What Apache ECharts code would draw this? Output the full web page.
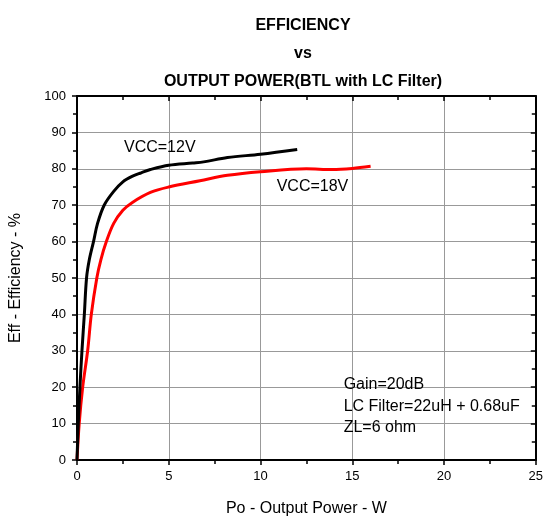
<!DOCTYPE html>
<html>
<head>
<meta charset="utf-8">
<script src="https://cdn.jsdelivr.net/npm/echarts@6/dist/echarts.min.js"></script>
<style>
  html, body { margin: 0; padding: 0; background: #fff; }
  #chart { width: 546px; height: 522px; }
</style>
</head>
<body>
<div id="chart"></div>
<script>
// VCC = 12V curve: output power (W) / efficiency (%)
const vcc12Power = [0, 0.07, 0.16, 0.27, 0.4, 0.52, 0.67, 0.9, 1.12, 1.48, 2.0, 2.5, 3.0, 3.5, 4.0, 5.0, 6.3, 6.9, 8.2, 10, 12];
const vcc12Eff   = [0, 10, 20, 30, 40, 50, 55, 60, 65, 70, 73.8, 76.4, 77.9, 78.9, 79.8, 81, 81.6, 81.9, 83.1, 84, 85.3];

// VCC = 18V curve
const vcc18Power = [0, 0.12, 0.31, 0.58, 0.78, 1.08, 1.3, 1.6, 2.0, 2.5, 3.0, 4.0, 5.0, 6.7, 8.2, 10, 12.5, 13.9, 15, 16];
const vcc18Eff   = [0, 10, 20, 30, 40, 50, 55, 60, 65, 68.6, 70.7, 73.5, 75, 76.7, 78.2, 79.2, 80, 79.8, 80.1, 80.7];

// text labels placed in data space
const label12 = { text: 'VCC=12V', at: [2.56, 85.8] };
const label18 = { text: 'VCC=18V', at: [10.88, 75.1] };
const noteLines = ['Gain=20dB', 'LC Filter=22uH + 0.68uF', 'ZL=6 ohm'];
const noteAt = [14.53, 14.7];

const FONT = 'Liberation Sans, Arial, sans-serif';

function pairs(xs, ys) {
  return xs.map((x, i) => [x, ys[i]]);
}

function textMark(text, coord, lineHeight) {
  return {
    coord: coord,
    symbol: 'circle',
    symbolSize: 0,
    label: {
      show: true,
      position: 'inside',
      formatter: text,
      align: 'left',
      verticalAlign: 'middle',
      color: '#000',
      fontFamily: FONT,
      fontSize: 16,
      lineHeight: lineHeight || 20
    }
  };
}

const chart = echarts.init(document.getElementById('chart'));

// shared bits for the frame axes
const blackLine = { show: true, onZero: false, lineStyle: { color: '#000', width: 2 } };

chart.setOption({
  animation: false,
  title: {
    text: 'EFFICIENCY\nvs\nOUTPUT POWER(BTL with LC Filter)',
    left: 298,
    top: 7,
    textAlign: 'center',
    textStyle: {
      fontFamily: FONT,
      fontWeight: 'bold',
      fontSize: 16,
      lineHeight: 28,
      color: '#000'
    }
  },
  grid: { left: 76, right: 9, top: 96, bottom: 51 },
  xAxis: [
    {
      type: 'value',
      min: 0, max: 25, interval: 5,
      position: 'bottom',
      name: 'Po - Output Power - W',
      nameLocation: 'middle',
      nameGap: 41,
      nameTextStyle: { fontFamily: FONT, fontSize: 16, color: '#000' },
      axisLine: blackLine,
      axisTick: { show: true, inside: false, length: 5, lineStyle: { color: '#000', width: 1.5 } },
      minorTick: { show: true, splitNumber: 2, length: 4, lineStyle: { color: '#000', width: 1.5 } },
      axisLabel: { margin: 10, fontFamily: FONT, fontSize: 13, color: '#000' },
      splitLine: { show: true, lineStyle: { color: '#999', width: 1 } }
    },
    {
      type: 'value',
      min: 0, max: 25, interval: 5,
      position: 'top',
      axisLine: blackLine,
      axisTick: { show: true, inside: true, length: 5, lineStyle: { color: '#000', width: 1.5 } },
      minorTick: { show: true, splitNumber: 2, length: 4, lineStyle: { color: '#000', width: 1.5 } },
      axisLabel: { show: false },
      splitLine: { show: false }
    }
  ],
  yAxis: [
    {
      type: 'value',
      min: 0, max: 100, interval: 10,
      position: 'left',
      name: 'Eff - Efficiency - %',
      nameLocation: 'middle',
      nameGap: 53,
      nameTextStyle: { fontFamily: FONT, fontSize: 16, color: '#000' },
      axisLine: blackLine,
      axisTick: { show: true, inside: false, length: 5, lineStyle: { color: '#000', width: 1.5 } },
      minorTick: { show: true, splitNumber: 2, length: 4, lineStyle: { color: '#000', width: 1.5 } },
      axisLabel: { margin: 11, fontFamily: FONT, fontSize: 13, color: '#000' },
      splitLine: { show: true, lineStyle: { color: '#999', width: 1 } }
    },
    {
      type: 'value',
      min: 0, max: 100, interval: 10,
      position: 'right',
      axisLine: blackLine,
      axisTick: { show: true, inside: true, length: 5, lineStyle: { color: '#000', width: 1.5 } },
      minorTick: { show: true, splitNumber: 2, length: 4, lineStyle: { color: '#000', width: 1.5 } },
      axisLabel: { show: false },
      splitLine: { show: false }
    }
  ],
  series: [
    {
      name: 'VCC=18V',
      type: 'line',
      xAxisIndex: 0,
      yAxisIndex: 0,
      data: pairs(vcc18Power, vcc18Eff),
      smooth: 0.35,
      showSymbol: false,
      lineStyle: { color: '#ff0000', width: 3 },
      markPoint: {
        silent: true,
        data: [
          textMark(label18.text, label18.at),
          textMark(noteLines.join('\n'), noteAt, 21.5)
        ]
      },
      z: 3
    },
    {
      name: 'VCC=12V',
      type: 'line',
      xAxisIndex: 0,
      yAxisIndex: 0,
      data: pairs(vcc12Power, vcc12Eff),
      smooth: 0.35,
      showSymbol: false,
      lineStyle: { color: '#000000', width: 3 },
      markPoint: {
        silent: true,
        data: [textMark(label12.text, label12.at)]
      },
      z: 4
    }
  ]
});
</script>
</body>
</html>
